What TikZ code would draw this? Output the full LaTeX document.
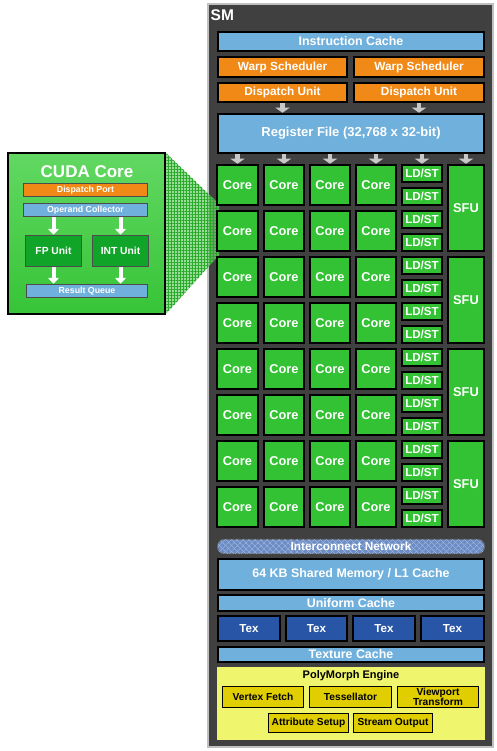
\documentclass[tikz,border=0pt]{standalone}
\usepackage{fontspec}
\setmainfont{Liberation Sans}
\usetikzlibrary{arrows.meta,patterns.meta}
\definecolor{smgray}{RGB}{64,64,64}
\definecolor{smedge}{RGB}{192,192,192}
\definecolor{lblue}{RGB}{111,176,220}
\definecolor{orng}{RGB}{240,137,22}
\definecolor{cgreen}{RGB}{51,194,51}
\definecolor{texblue}{RGB}{40,85,165}
\definecolor{ylw}{RGB}{240,245,110}
\definecolor{ybx}{RGB}{224,206,0}
\definecolor{icblue}{RGB}{107,140,196}
\definecolor{iclat}{RGB}{170,190,225}
\definecolor{dgreen}{RGB}{16,165,40}
\definecolor{ctop}{RGB}{98,216,98}
\definecolor{cbot}{RGB}{55,196,55}
\definecolor{trapg}{RGB}{120,210,120}
\definecolor{trapl}{RGB}{40,170,40}
\definecolor{arrgray}{RGB}{200,200,200}
\newcommand\fsz[1]{\fontsize{#1}{#1}\selectfont}
% name, x1, y1, x2, y2, style, text
\newcommand\bx[7]{\node[#6, minimum width={(#4)-(#2)-1.5}, minimum height={(#5)-(#3)-1.5}] (#1) at ({((#2)+(#4))/2},{-((#3)+(#5))/2}) {#7};}
\tikzset{
  base/.style={inner sep=0pt, outer sep=0pt, font=\bfseries, text=white, align=center},
  lbox/.style={base, fill=lblue, draw=black, line width=1.6pt, font=\bfseries\fsz{12.4}},
  obox/.style={base, fill=orng, draw=black, line width=1.6pt, font=\bfseries\fsz{11.8}},
  corebox/.style={base, fill=cgreen, draw=black, line width=1.6pt, font=\bfseries\fsz{12.8}},
  ldstbox/.style={base, fill=cgreen, draw=black, line width=1.6pt, font=\bfseries\fsz{11.6}},
  texbox/.style={base, fill=texblue, draw=black, line width=1.6pt, font=\bfseries\fsz{11.6}},
  ybox/.style={base, fill=ybx, draw=black, line width=1.2pt, text=black, font=\bfseries\fsz{10.2}},
  cbox/.style={base, draw=black!70, line width=0.7pt, font=\bfseries\fsz{8.8}},
  garrow/.style={draw=arrgray, line width=4.5pt, -{Triangle[width=14pt,length=5pt]}},
  warrow/.style={draw=white, line width=4pt, -{Triangle[width=11pt,length=6pt]}},
}
\begin{document}
\begin{tikzpicture}[x=1pt,y=1pt]
\useasboundingbox (0,0) rectangle (497,-751);
% SM frame
\node[inner sep=0, outer sep=0, fill=smgray, draw=smedge, line width=2pt, minimum width=285pt, minimum height=742pt] (sm) at (350,-375.5) {};
\node[anchor=west, inner sep=0, text=white, font=\bfseries\fsz{15.5}] (smlabel) at (210.5,-15.5) {SM};
% zoom trapezoid
\fill[trapg, fill opacity=0.75] (166,-153) -- (219,-204) -- (219,-255) -- (166,-314) -- cycle;
\fill[pattern={Lines[angle=0,distance=3pt,line width=0.5pt]}, pattern color=trapl, fill opacity=0.55] (166,-153) -- (219,-204) -- (219,-255) -- (166,-314) -- cycle;
\fill[pattern={Lines[angle=90,distance=3pt,line width=0.5pt]}, pattern color=trapl, fill opacity=0.55] (166,-153) -- (219,-204) -- (219,-255) -- (166,-314) -- cycle;
% top blocks
\bx{icache}{217}{31}{485}{52}{lbox}{Instruction Cache}
\bx{warpL}{217}{56}{348}{78}{obox}{Warp Scheduler}
\bx{warpR}{353}{56}{485}{78}{obox}{Warp Scheduler}
\bx{dispL}{217}{82}{348}{103}{obox}{Dispatch Unit}
\bx{dispR}{353}{82}{485}{103}{obox}{Dispatch Unit}
\bx{reg}{217}{113}{485}{154}{lbox,font=\bfseries\fsz{13}}{Register File (32,768 x 32-bit)}
\draw[garrow] ([yshift=-1pt]dispL.south) -- ([yshift=1pt]reg.north -| dispL.south);
\draw[garrow] ([yshift=-1pt]dispR.south) -- ([yshift=1pt]reg.north -| dispR.south);
% cores
\foreach \r in {0,...,7}{
  \foreach \c/\xa/\xb in {1/216/259,2/263/305,3/309/351,4/355/397}{
    \pgfmathsetmacro\ya{164+46*\r}
    \pgfmathsetmacro\yb{\ya+42}
    \bx{core-\r-\c}{\xa}{\ya}{\xb}{\yb}{corebox}{Core}
  }
}
\foreach \k in {0,...,15}{
  \pgfmathsetmacro\ya{164+23*\k}
  \pgfmathsetmacro\yb{\ya+19}
  \bx{ldst-\k}{401}{\ya}{443}{\yb}{ldstbox}{LD/ST}
}
\foreach \k in {0,...,3}{
  \pgfmathsetmacro\ya{164+92*\k}
  \pgfmathsetmacro\yb{\ya+88}
  \bx{sfu-\k}{447}{\ya}{485}{\yb}{corebox}{SFU}
}
\foreach \t in {core-0-1,core-0-2,core-0-3,core-0-4,ldst-0,sfu-0}{
  \draw[garrow] ([yshift=-1pt]reg.south -| \t.north) -- ([yshift=1pt]\t.north);
}
% interconnect
\node[base, draw=black!60, line width=0.8pt, rounded corners=7pt, fill=icblue,
  postaction={pattern={Lines[angle=45,distance=4pt,line width=0.6pt]}, pattern color=iclat},
  postaction={pattern={Lines[angle=-45,distance=4pt,line width=0.6pt]}, pattern color=iclat},
  minimum width=267pt, minimum height=14.5pt, font=\bfseries\fsz{11.8}] (icn) at (351,-546.5) {Interconnect Network};
\bx{shmem}{217}{558}{485}{591}{lbox}{64 KB Shared Memory / L1 Cache}
\bx{ucache}{217}{594}{485}{612}{lbox}{Uniform Cache}
\bx{tex1}{217}{615}{281}{642}{texbox}{Tex}
\bx{tex2}{285}{615}{348}{642}{texbox}{Tex}
\bx{tex3}{352}{615}{416}{642}{texbox}{Tex}
\bx{tex4}{420}{615}{485}{642}{texbox}{Tex}
\bx{tcache}{217}{646}{485}{663}{lbox}{Texture Cache}
% polymorph
\node[inner sep=0, outer sep=0, fill=ylw, minimum width=268pt, minimum height=73pt] (poly) at (351,-703.5) {};
\node[base, text=black, font=\bfseries\fsz{11}] (polyt) at (351,-676) {PolyMorph Engine};
\bx{vfetch}{222}{686}{304}{708}{ybox}{Vertex Fetch}
\bx{tess}{309}{686}{392}{708}{ybox}{Tessellator}
\bx{vport}{397}{686}{479}{708}{ybox,font=\bfseries\fontsize{10.2}{9.2}\selectfont}{Viewport\\Transform}
\bx{attr}{268}{713}{349}{733}{ybox}{Attribute Setup}
\bx{sout}{353}{713}{433}{733}{ybox}{Stream Output}
% CUDA core detail
\node[inner sep=0, outer sep=0, draw=black, line width=2pt, top color=ctop, bottom color=cbot, minimum width=157pt, minimum height=161pt] (cuda) at (86.5,-233.5) {};
\node[base, font=\bfseries\fsz{17}] (cudat) at (87,-172) {CUDA Core};
\bx{dport}{23}{183}{148}{197}{cbox,fill=orng}{Dispatch Port}
\bx{opc}{23}{203}{148}{217}{cbox,fill=lblue}{Operand Collector}
\bx{fp}{25}{235}{82}{267}{cbox,fill=dgreen,font=\bfseries\fsz{10.3}}{FP Unit}
\bx{int}{92}{235}{149}{267}{cbox,fill=dgreen,font=\bfseries\fsz{10.3}}{INT Unit}
\bx{rq}{26}{284}{148}{298}{cbox,fill=lblue}{Result Queue}
\draw[warrow] ([yshift=-1pt]opc.south -| fp.north) -- ([yshift=1pt]fp.north);
\draw[warrow] ([yshift=-1pt]opc.south -| int.north) -- ([yshift=1pt]int.north);
\draw[warrow] ([yshift=-1pt]fp.south) -- ([yshift=1pt]rq.north -| fp.south);
\draw[warrow] ([yshift=-1pt]int.south) -- ([yshift=1pt]rq.north -| int.south);
\end{tikzpicture}
\end{document}
